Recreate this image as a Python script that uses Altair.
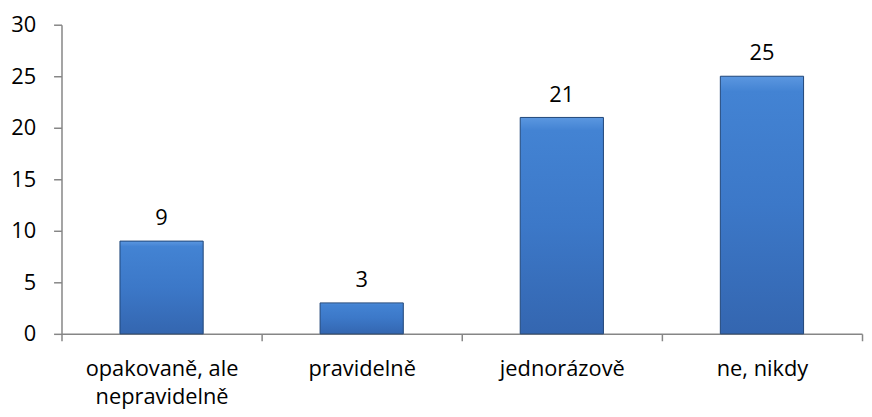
import altair as alt
import pandas as pd

categories = ["opakovaně, ale\nnepravidelně", "pravidelně", "jednorázově", "ne, nikdy"]
values = [9, 3, 21, 25]
y_ticks = [0, 5, 10, 15, 20, 25, 30]

df = pd.DataFrame({"cat": categories, "val": values})

FONT = "Open Sans"
FS = 22

x = alt.X("cat:N", sort=categories, title=None,
          scale=alt.Scale(paddingInner=0, paddingOuter=0),
          axis=alt.Axis(labelAngle=0, labelExpr="split(datum.label, '\\n')",
                        labelLineHeight=28, labelPadding=18, labelFontSize=FS,
                        labelFont=FONT, labelColor="#000000",
                        tickBand="extent", tickSize=7, tickColor="#868686",
                        domainColor="#868686", domainWidth=1.5, tickWidth=1.5,
                        labelBaseline="top"))
y = alt.Y("val:Q", title=None,
          scale=alt.Scale(domain=[0, 30], nice=False, zero=True),
          axis=alt.Axis(values=y_ticks, grid=False, tickSize=8, labelPadding=18,
                        labelFontSize=FS, labelFont=FONT, labelColor="#000000",
                        tickColor="#868686", domainColor="#868686",
                        domainWidth=1.5, tickWidth=1.5))

grad = alt.Gradient(gradient="linear", x1=0, x2=0, y1=0, y2=1,
                    stops=[alt.GradientStop(color="#5b97e0", offset=0),
                           alt.GradientStop(color="#4383d3", offset=0.06),
                           alt.GradientStop(color="#3c78c8", offset=0.5),
                           alt.GradientStop(color="#3466b0", offset=1)])

bars = alt.Chart(df).mark_bar(size=84, fill=grad, stroke="#1f4577",
                              strokeWidth=1).encode(x=x, y=y)

text = alt.Chart(df).mark_text(dy=-11, baseline="bottom", fontSize=FS,
                               font=FONT, color="#000000").encode(
    x=alt.X("cat:N", sort=categories), y="val:Q", text="val:Q")

chart = (bars + text).properties(
    width=808, height=312,
    autosize=alt.AutoSizeParams(type="none"),
    padding={"left": 54, "top": 15, "right": 2, "bottom": 74},
).configure_view(stroke=None)

chart.save("out.html", embed_options={"renderer": "svg", "actions": False})
